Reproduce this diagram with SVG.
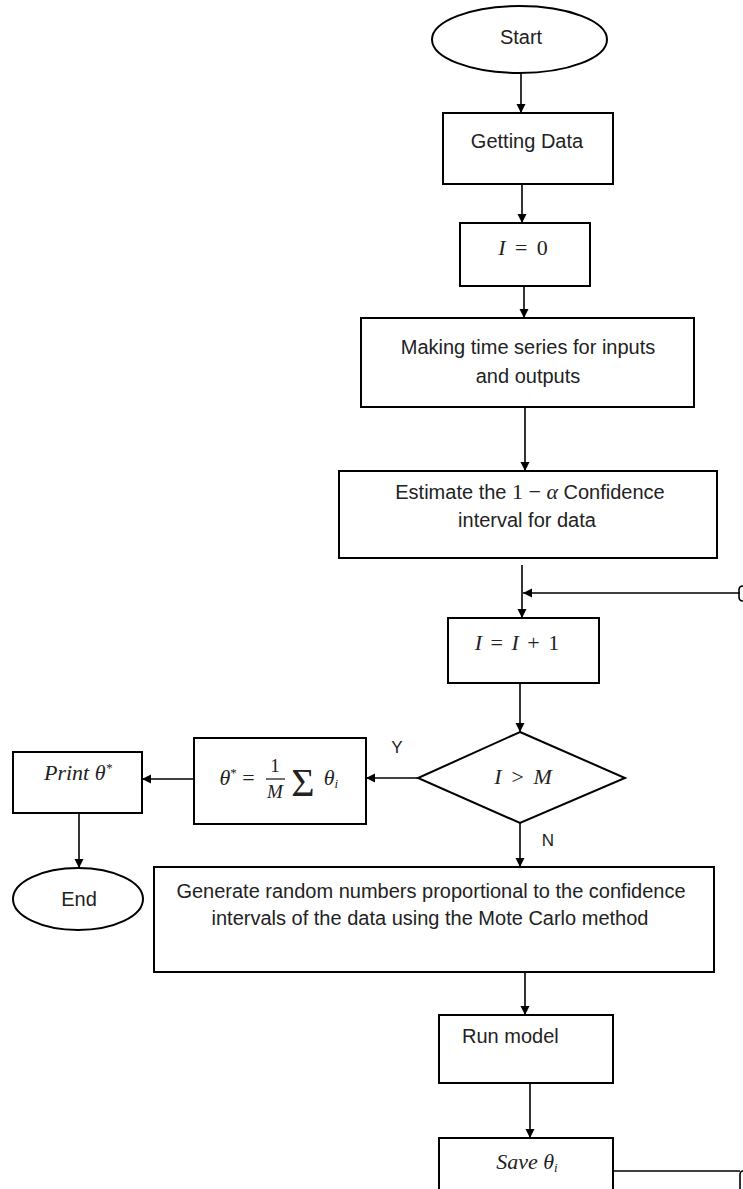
<svg xmlns="http://www.w3.org/2000/svg" width="743" height="1189" viewBox="0 0 743 1189">
<defs>
<marker id="ah" markerUnits="userSpaceOnUse" markerWidth="10" markerHeight="10" refX="9" refY="5" orient="auto">
<path d="M0,0.5 L9,5 L0,9.5 Z" fill="#000"/>
</marker>
<style>
.shape{fill:#fff;stroke:#000;stroke-width:2}
.conn{fill:none;stroke:#000;stroke-width:1.6}
.t{font-family:"Liberation Sans",Arial,sans-serif;font-size:20px;fill:#222;text-anchor:middle}
.m{font-family:"Liberation Serif","Times New Roman",serif;font-size:22px;fill:#222;text-anchor:middle}
.i{font-style:italic}
.lbl{font-family:"Liberation Sans",Arial,sans-serif;font-size:17px;fill:#222;text-anchor:middle}
</style>
</defs>
<rect width="743" height="1189" fill="#fff"/>
<g id="connectors">
<line class="conn" x1="521" y1="73" x2="521" y2="113" marker-end="url(#ah)"/>
<line class="conn" x1="522" y1="184" x2="522" y2="223" marker-end="url(#ah)"/>
<line class="conn" x1="524" y1="286" x2="524" y2="318" marker-end="url(#ah)"/>
<line class="conn" x1="525" y1="407" x2="525" y2="471" marker-end="url(#ah)"/>
<line class="conn" x1="522" y1="565" x2="522" y2="618" marker-end="url(#ah)"/>
<line class="conn" x1="740" y1="593" x2="523" y2="593" marker-end="url(#ah)"/>
<path class="conn" d="M743,586 Q739,586 739,590 L739,597 Q739,601 743,601" stroke-width="1"/>
<line class="conn" x1="520" y1="683" x2="520" y2="732" marker-end="url(#ah)"/>
<line class="conn" x1="418" y1="778" x2="366" y2="778" marker-end="url(#ah)"/>
<line class="conn" x1="194" y1="779" x2="142" y2="779" marker-end="url(#ah)"/>
<line class="conn" x1="79" y1="813" x2="79" y2="868" marker-end="url(#ah)"/>
<line class="conn" x1="520" y1="823" x2="520" y2="867" marker-end="url(#ah)"/>
<line class="conn" x1="525" y1="960" x2="525" y2="1015" marker-end="url(#ah)"/>
<line class="conn" x1="530" y1="1083" x2="530" y2="1138" marker-end="url(#ah)"/>
<line class="conn" x1="613" y1="1171" x2="740" y2="1171"/>
<path class="conn" d="M743,1171 Q740,1171 740,1175 L740,1189" stroke-width="1"/>
</g>
<g id="start">
<ellipse class="shape" cx="519.5" cy="39.5" rx="87.5" ry="33.5"/>
<text class="t" x="521" y="44">Start</text>
</g>
<g id="getting-data">
<rect class="shape" x="443" y="113" width="170" height="71"/>
<text class="t" x="527" y="148">Getting Data</text>
</g>
<g id="i-zero">
<rect class="shape" x="460" y="223" width="130" height="63"/>
<text class="m" x="523" y="255" word-spacing="4"><tspan class="i">I</tspan> = 0</text>
</g>
<g id="making">
<rect class="shape" x="361" y="318" width="333" height="89"/>
<text class="t" x="528" y="354">Making time series for inputs</text>
<text class="t" x="528" y="383">and outputs</text>
</g>
<g id="estimate">
<rect class="shape" x="339" y="471" width="378" height="87"/>
<text class="t" x="530" y="499">Estimate the <tspan font-family="Liberation Serif, serif" font-size="22">1 − <tspan font-style="italic">α</tspan></tspan> Confidence</text>
<text class="t" x="527" y="527">interval for data</text>
</g>
<g id="increment">
<rect class="shape" x="448" y="618" width="151" height="65"/>
<text class="m" x="517" y="650" word-spacing="3"><tspan class="i">I</tspan> = <tspan class="i">I</tspan> + 1</text>
</g>
<g id="decision">
<polygon class="shape" points="520,732 625,778 520,823 418,778"/>
<text class="m i" x="523" y="784" word-spacing="3">I &gt; M</text>
<text class="lbl" x="397" y="753">Y</text>
<text class="lbl" x="548" y="846">N</text>
</g>
<g id="mean">
<rect class="shape" x="194" y="738" width="172" height="86"/>
<text class="m" x="237" y="785"><tspan class="i">θ</tspan><tspan font-size="13" dy="-8">*</tspan><tspan dy="8"> =</tspan></text>
<text class="m" x="275" y="772" style="font-size:19px">1</text>
<line x1="266" y1="779" x2="285" y2="779" stroke="#222" stroke-width="1.3"/>
<text class="m i" x="275" y="798" style="font-size:19px">M</text>
<text class="m" x="303" y="796" style="font-size:40px">Σ</text>
<text class="m i" x="331" y="785">θ<tspan font-size="13" dy="3">i</tspan></text>
</g>
<g id="print">
<rect class="shape" x="13" y="752" width="129" height="61"/>
<text class="m i" x="78" y="780">Print θ<tspan font-size="13" dy="-8">*</tspan></text>
</g>
<g id="end">
<ellipse class="shape" cx="78" cy="899" rx="65" ry="31"/>
<text class="t" x="79" y="906">End</text>
</g>
<g id="generate">
<rect class="shape" x="154" y="867" width="560" height="105"/>
<text class="t" x="431" y="898">Generate random numbers proportional to the confidence</text>
<text class="t" x="430" y="925">intervals of the data using the Mote Carlo method</text>
</g>
<g id="run-model">
<rect class="shape" x="439" y="1015" width="174" height="68"/>
<text class="t" x="462" y="1043" style="text-anchor:start">Run model</text>
</g>
<g id="save">
<rect class="shape" x="439" y="1138" width="174" height="60"/>
<text class="m i" x="527" y="1169">Save θ<tspan font-size="13" dy="3">i</tspan></text>
</g>
</svg>
